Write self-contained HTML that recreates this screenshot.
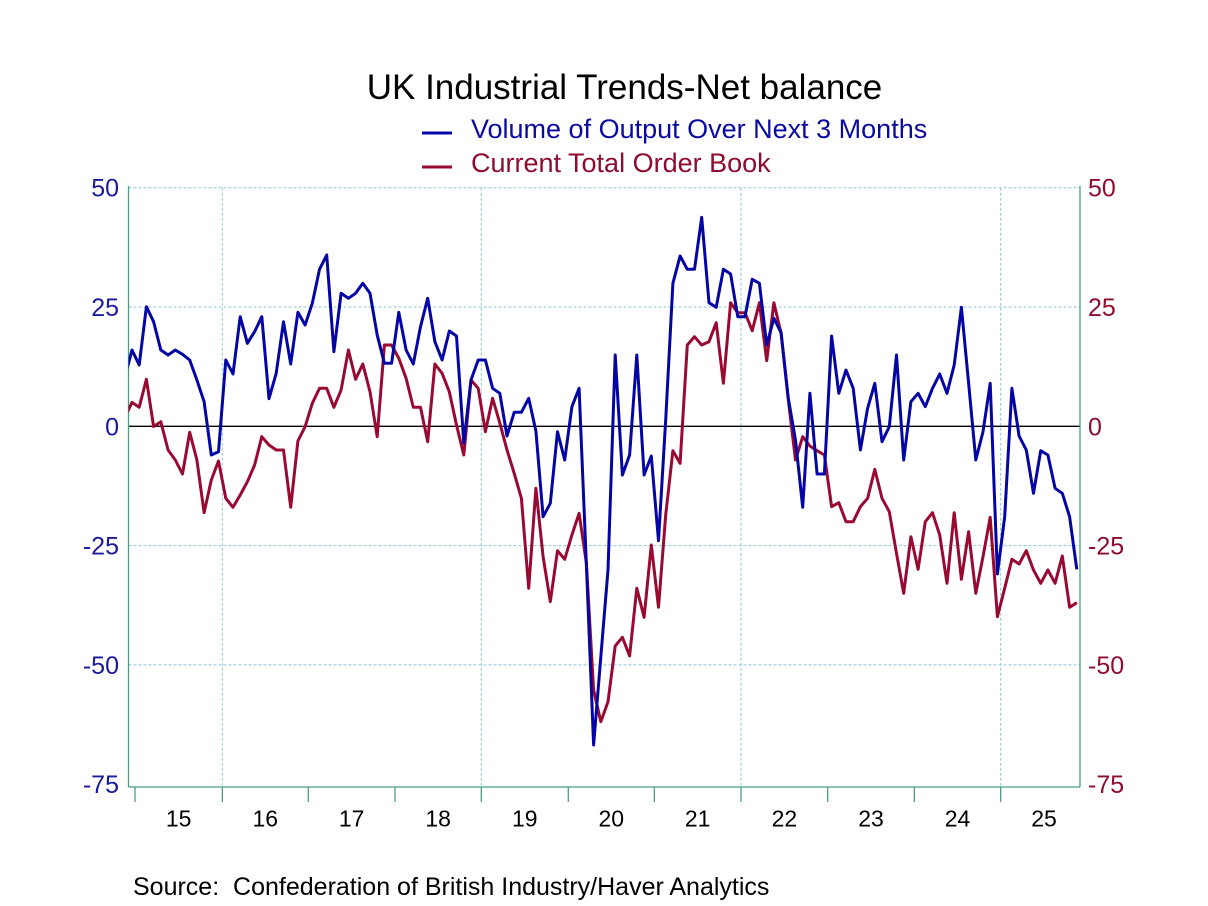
<!DOCTYPE html>
<html>
<head>
<meta charset="utf-8">
<style>
  html,body{margin:0;padding:0;background:#fff;}
  svg{display:block;}
  text{font-family:"Liberation Sans",Arial,sans-serif;}
</style>
</head>
<body>
<svg width="1208" height="906" viewBox="0 0 1208 906" xmlns="http://www.w3.org/2000/svg">
  <defs>
    <clipPath id="plot">
      <rect x="128.5" y="150" width="951.5" height="637"/>
    </clipPath>
  </defs>
  <rect width="1208" height="906" fill="#fff"/>

  <!-- Title -->
  <text x="624.5" y="99" font-size="35" text-anchor="middle" fill="#000">UK Industrial Trends-Net balance</text>

  <!-- Legend -->
  <line x1="422" y1="133" x2="452" y2="133" stroke="#0505a5" stroke-width="3"/>
  <text x="471" y="138" font-size="27" fill="#0a0aa0">Volume of Output Over Next 3 Months</text>
  <line x1="422" y1="167" x2="452" y2="167" stroke="#990a33" stroke-width="3"/>
  <text x="471" y="172" font-size="27" fill="#8e0c2e">Current Total Order Book</text>

  <!-- Gridlines -->
  <g stroke="#8cc6d6" stroke-width="1" stroke-dasharray="3,2" fill="none">
    <line x1="128.5" y1="187.7" x2="1080" y2="187.7"/>
    <line x1="128.5" y1="307" x2="1080" y2="307"/>
    <line x1="128.5" y1="545.6" x2="1080" y2="545.6"/>
    <line x1="128.5" y1="664.9" x2="1080" y2="664.9"/>
    <line x1="222.3" y1="187.7" x2="222.3" y2="787"/>
    <line x1="481.3" y1="187.7" x2="481.3" y2="787"/>
    <line x1="741" y1="187.7" x2="741" y2="787"/>
    <line x1="1000.7" y1="187.7" x2="1000.7" y2="787"/>
  </g>
  <!-- Zero line -->
  <line x1="128.5" y1="426.3" x2="1080" y2="426.3" stroke="#000" stroke-width="1.3"/>

  <!-- Axes -->
  <g stroke="#4a9e80" stroke-width="1.3" fill="none">
    <line x1="128.5" y1="186" x2="128.5" y2="787"/>
    <line x1="1080" y1="186" x2="1080" y2="787"/>
    <line x1="128.5" y1="787" x2="1080" y2="787"/>
    <line x1="135" y1="787" x2="135" y2="802"/>
    <line x1="222.3" y1="787" x2="222.3" y2="802"/>
    <line x1="308.3" y1="787" x2="308.3" y2="802"/>
    <line x1="395" y1="787" x2="395" y2="802"/>
    <line x1="481.3" y1="787" x2="481.3" y2="802"/>
    <line x1="568.3" y1="787" x2="568.3" y2="802"/>
    <line x1="654.3" y1="787" x2="654.3" y2="802"/>
    <line x1="741" y1="787" x2="741" y2="802"/>
    <line x1="827.7" y1="787" x2="827.7" y2="802"/>
    <line x1="914.3" y1="787" x2="914.3" y2="802"/>
    <line x1="1000.7" y1="787" x2="1000.7" y2="802"/>
  </g>

  <!-- Left axis labels -->
  <g font-size="25" fill="#1a1a9e" text-anchor="end">
    <text x="119" y="196.7">50</text>
    <text x="119" y="316">25</text>
    <text x="119" y="435.3">0</text>
    <text x="119" y="554.6">-25</text>
    <text x="119" y="673.9">-50</text>
    <text x="119" y="793.2">-75</text>
  </g>
  <!-- Right axis labels -->
  <g font-size="25" fill="#8e0c2e" text-anchor="start">
    <text x="1088" y="196.7">50</text>
    <text x="1088" y="316">25</text>
    <text x="1088" y="435.3">0</text>
    <text x="1088" y="554.6">-25</text>
    <text x="1088" y="673.9">-50</text>
    <text x="1088" y="793.2">-75</text>
  </g>

  <!-- Year labels -->
  <g font-size="23" fill="#000" text-anchor="middle">
    <text x="178.7" y="826.7">15</text>
    <text x="265.3" y="826.7">16</text>
    <text x="351.7" y="826.7">17</text>
    <text x="438.2" y="826.7">18</text>
    <text x="524.8" y="826.7">19</text>
    <text x="611.3" y="826.7">20</text>
    <text x="697.7" y="826.7">21</text>
    <text x="784.4" y="826.7">22</text>
    <text x="871" y="826.7">23</text>
    <text x="957.5" y="826.7">24</text>
    <text x="1044" y="826.7">25</text>
  </g>

  <!-- Source -->
  <text x="133" y="895" font-size="25" fill="#000" xml:space="preserve">Source:  Confederation of British Industry/Haver Analytics</text>

  <!-- Series -->
  <g clip-path="url(#plot)" fill="none" stroke-width="3" stroke-linejoin="round">
    <polyline stroke="#990a33" points="
124.8,417.6 132.0,402.3 139.2,407.3 146.4,379.3 153.6,426.5 160.8,421.7 168.1,450 175.3,460 182.5,474 189.7,432.3 196.9,460 204.1,512.7 211.3,480 218.5,461 225.8,498.3 233.0,507.3 240.2,495 247.4,481.7 254.6,465 261.8,436.7 269.0,445 276.2,450 283.5,450 290.7,507.3 297.9,441 305.1,426.7 312.3,403.3 319.5,388.3 326.7,388.3 333.9,407.3 341.1,390 348.4,350 355.6,379.3 362.8,364 370.0,391.7 377.2,436.7 384.4,345 391.6,345 398.8,358.3 406.1,378.3 413.3,407.3 420.5,407.3 427.7,441.7 434.9,364 442.1,373.3 449.3,391.7 456.5,425 463.8,455 471.0,380 478.2,388.3 485.4,431.7 492.6,398.3 499.8,423 507.0,450 514.2,473.3 521.4,498.3 528.7,588.3 535.9,488.3 543.1,556.7 550.3,601.7 557.5,550.7 564.7,559.3 571.9,535 579.1,513.3 586.4,563.3 593.6,690 600.8,721.7 608.0,701.7 615.2,646 622.4,637.3 629.6,656 636.8,588.3 644.1,617.3 651.3,545 658.5,607.3 665.7,515 672.9,450.7 680.1,463.3 687.3,345 694.5,336.7 701.7,345 709.0,341.7 716.2,322.7 723.4,383.3 730.6,302.7 737.8,312.7 745.0,312.7 752.2,330.7 759.4,302.7 766.7,360.7 773.9,302.7 781.1,333.3 788.3,400 795.5,460 802.7,436.7 809.9,446 817.1,450.7 824.4,455 831.6,506.7 838.8,502.7 846.0,521.7 853.2,521.7 860.4,506.7 867.6,498.3 874.8,469.3 882.0,498.3 889.3,511.7 896.5,553.3 903.7,593.3 910.9,536.7 918.1,569.3 925.3,521.7 932.5,512.7 939.7,535 947.0,583.3 954.2,512.7 961.4,579.3 968.6,531.7 975.8,593.3 983.0,556.7 990.2,517.3 997.4,616.7 1004.7,588.3 1011.9,559.3 1019.1,564 1026.3,550.7 1033.5,570 1040.7,583.3 1047.9,570 1055.1,583.3 1062.3,556 1069.6,607.3 1076.8,602.7"/>
    <polyline stroke="#0505a5" points="
124.8,378 132.0,350 139.2,365 146.4,306.7 153.6,321.7 160.8,350 168.1,355 175.3,350 182.5,354.3 189.7,360 196.9,380 204.1,401.7 211.3,455 218.5,451.7 225.8,360 233.0,374 240.2,316.7 247.4,343.3 254.6,331.7 261.8,316.7 269.0,398.7 276.2,373.3 283.5,321.7 290.7,364 297.9,312.3 305.1,325 312.3,303.3 319.5,269.3 326.7,255 333.9,351.7 341.1,293.3 348.4,298.3 355.6,293.3 362.8,283.3 370.0,293.3 377.2,335 384.4,363.3 391.6,363.3 398.8,312.3 406.1,350 413.3,364 420.5,326.7 427.7,298.3 434.9,341.7 442.1,360 449.3,331 456.5,336 463.8,443 471.0,380 478.2,360 485.4,360 492.6,388.3 499.8,393.3 507.0,436 514.2,412.3 521.4,412.3 528.7,398.3 535.9,431 543.1,516.7 550.3,503.3 557.5,431.7 564.7,460 571.9,406.7 579.1,388.3 586.4,565 593.6,745 600.8,657 608.0,570 615.2,355 622.4,475 629.6,455 636.8,355 644.1,475 651.3,456 658.5,540.7 665.7,420 672.9,283.3 680.1,256 687.3,269.3 694.5,269.3 701.7,217.3 709.0,302.7 716.2,307.3 723.4,269.3 730.6,274 737.8,316.7 745.0,316.7 752.2,279.3 759.4,283.3 766.7,345 773.9,318.3 781.1,332.7 788.3,398.3 795.5,440 802.7,507.3 809.9,393.3 817.1,474 824.4,474 831.6,336 838.8,393.3 846.0,370 853.2,388.3 860.4,450 867.6,408.3 874.8,383.3 882.0,441.7 889.3,426.7 896.5,355 903.7,460 910.9,401.7 918.1,393.3 925.3,406.7 932.5,388.3 939.7,374 947.0,393.3 954.2,365 961.4,307.3 968.6,383 975.8,460 983.0,431.7 990.2,383.3 997.4,574 1004.7,516.7 1011.9,388.3 1019.1,436 1026.3,450 1033.5,493.3 1040.7,450.7 1047.9,455 1055.1,488.3 1062.3,493.3 1069.6,516.7 1076.8,569.3"/>
  </g>
</svg>
</body>
</html>
